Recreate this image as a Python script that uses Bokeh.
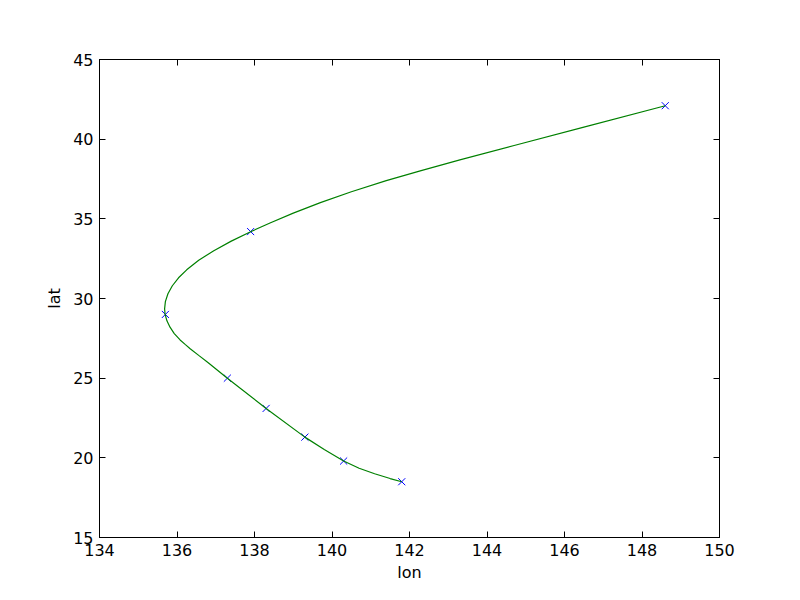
from bokeh.plotting import figure
from bokeh.models import Range1d, FixedTicker, LinearAxis
from bokeh.embed import file_html
from bokeh.resources import INLINE

# Observed points (blue crosses)
lon_pts = [141.8, 140.3, 139.3, 138.3, 137.3, 135.7, 137.9, 148.6]
lat_pts = [18.5, 19.8, 21.3, 23.1, 25.0, 29.0, 34.2, 42.1]

# Smooth track (green curve)
lon_curve = [141.8, 141.5, 141.1, 140.7, 140.3, 139.8, 139.3, 138.3, 137.3,
             136.79, 136.56, 136.34, 136.21, 136.08, 135.93, 135.82, 135.74,
             135.693, 135.68, 135.70, 135.766, 135.88, 136.04, 136.25, 136.56,
             136.95, 137.40, 137.9, 138.4, 139.0, 139.7, 140.5, 141.4, 142.3,
             143.3, 144.7, 146.5, 148.6]
lat_curve = [18.5, 18.7, 19.0, 19.35, 19.8, 20.52, 21.3, 23.1, 25.0,
             26.0, 26.43, 26.85, 27.12, 27.4, 27.8, 28.2, 28.6,
             29.0, 29.35, 29.8, 30.3, 30.8, 31.3, 31.8, 32.4,
             33.0, 33.6, 34.19, 34.74, 35.36, 36.02, 36.70, 37.40, 38.03,
             38.70, 39.60, 40.76, 42.1]

x_ticks = [134, 136, 138, 140, 142, 144, 146, 148, 150]
y_ticks = [15, 20, 25, 30, 35, 40, 45]

FONT = "DejaVu Sans"
FS = "16px"

p = figure(width=784, height=584, output_backend="svg", toolbar_location=None,
           x_range=Range1d(134, 150), y_range=Range1d(15, 45),
           min_border_left=99, min_border_right=65,
           min_border_top=59, min_border_bottom=45)
p.background_fill_color = "white"
p.border_fill_color = "white"
p.outline_line_color = "black"
p.outline_line_width = 1
p.xgrid.visible = False
p.ygrid.visible = False

p.scatter(lon_pts, lat_pts, marker="x", size=10, line_color="#0000ff", line_width=1)
p.line(lon_curve, lat_curve, line_color="#008000", line_width=1.2)

def style(ax, ticks, labels=True):
    ax.ticker = FixedTicker(ticks=ticks)
    ax.major_tick_in = 6
    ax.major_tick_out = 0
    ax.minor_tick_line_color = None
    ax.axis_line_color = "black"
    ax.major_tick_line_color = "black"
    ax.major_label_text_font = FONT
    ax.major_label_text_font_size = FS
    ax.major_label_text_color = "black"
    ax.major_label_standoff = 6
    ax.axis_label_text_font = FONT
    ax.axis_label_text_font_size = FS
    ax.axis_label_text_font_style = "normal"
    ax.axis_label_text_color = "black"
    if not labels:
        ax.major_label_text_alpha = 0

style(p.xaxis[0], x_ticks)
style(p.yaxis[0], y_ticks)
p.xaxis[0].axis_label = "lon"
p.yaxis[0].axis_label = "lat"
p.xaxis[0].axis_label_standoff = 4
p.yaxis[0].axis_label_standoff = 6

top = LinearAxis()
style(top, x_ticks, labels=False)
p.add_layout(top, "above")
right = LinearAxis()
style(right, y_ticks, labels=False)
p.add_layout(right, "right")

open("out.html", "w").write(file_html(p, INLINE))
